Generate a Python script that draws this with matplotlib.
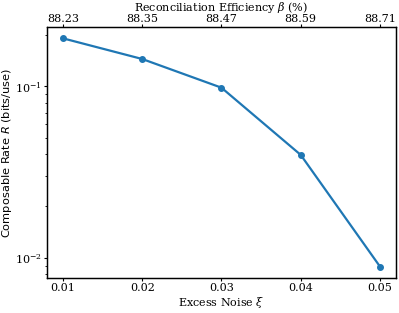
import matplotlib
matplotlib.use('Agg')
import matplotlib.pyplot as plt

# data
excess_noise = [0.01, 0.02, 0.03, 0.04, 0.05]
rate = [0.19, 0.144, 0.098, 0.0398, 0.0089]
beta_labels = ['88.23', '88.35', '88.47', '88.59', '88.71']

plt.rcParams['font.family'] = 'DejaVu Serif'
plt.rcParams['mathtext.fontset'] = 'dejavuserif'
plt.rcParams['font.size'] = 8
plt.rcParams['xtick.major.size'] = 2.5
plt.rcParams['ytick.major.size'] = 2.5
plt.rcParams['ytick.minor.size'] = 1.5
plt.rcParams['xtick.major.pad'] = 1.5
plt.rcParams['ytick.major.pad'] = 1.2
plt.rcParams['axes.linewidth'] = 0.9

fig, ax = plt.subplots(figsize=(3.99, 3.13), dpi=100)
fig.subplots_adjust(left=0.118, right=0.992, top=0.914, bottom=0.112)

ax.plot(excess_noise, rate, marker='o', markersize=4, color='#1f77b4', linewidth=1.6)
ax.set_yscale('log')
ax.set_xticks(excess_noise)
ax.set_xlabel(r'Excess Noise $\xi$', labelpad=1)

ax2 = ax.twiny()
ax2.set_xlim(ax.get_xlim())
ax2.set_xticks(excess_noise)
ax2.set_xticklabels(beta_labels)
ax2.tick_params(axis='x', length=2, pad=0)

# labels placed in figure coords so they stay inside the small canvas
ymid = (0.112 + 0.914) / 2
fig.text(0.0, ymid, r'Composable Rate $R$ (bits/use)', rotation=90,
         ha='left', va='center', family='DejaVu Sans',
         math_fontfamily='dejavusans', fontsize=8.2)
xmid = (0.118 + 0.992) / 2
fig.text(xmid, 0.999, r'Reconciliation Efficiency $\beta$ (%)',
         ha='center', va='top')

fig.savefig('out.png', dpi=100)
